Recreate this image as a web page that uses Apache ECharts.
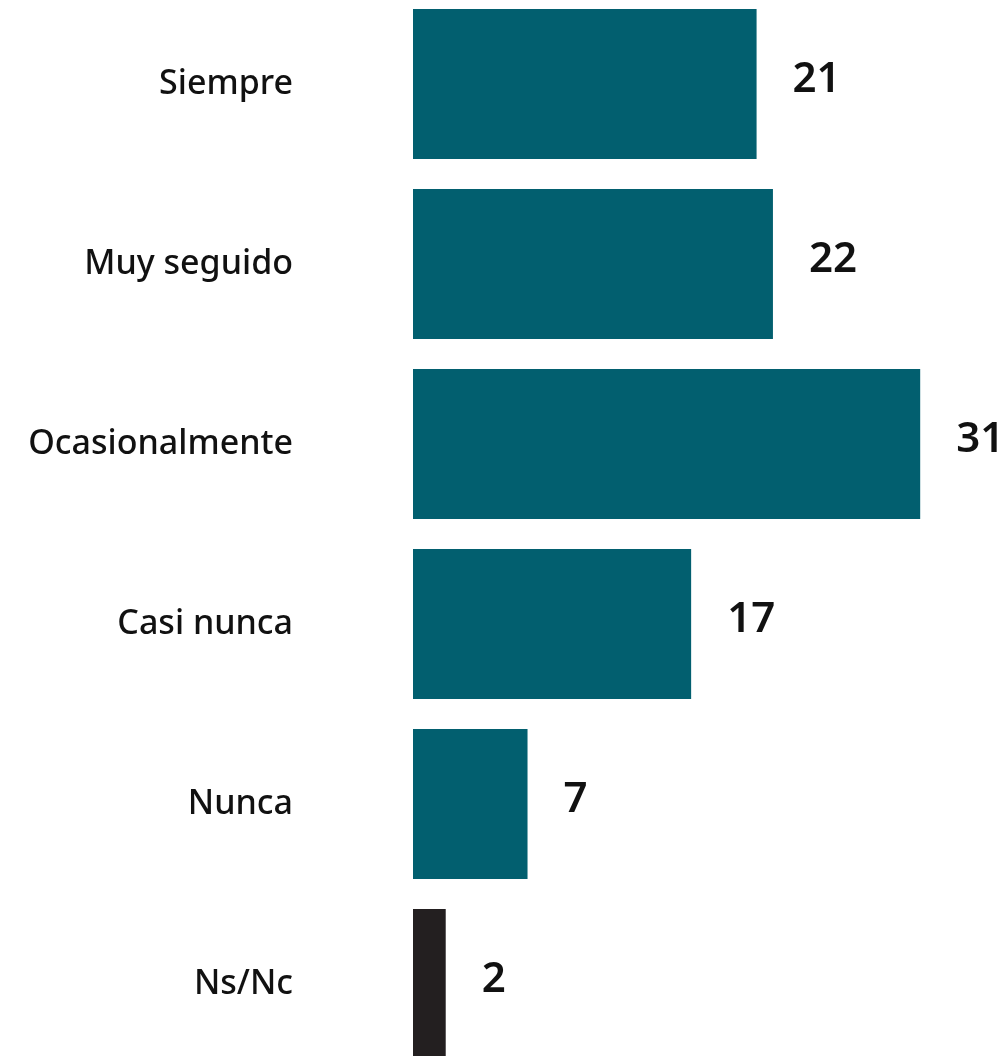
<!DOCTYPE html>
<html>
<head>
<meta charset="utf-8">
<script src="https://cdn.jsdelivr.net/npm/echarts@6/dist/echarts.min.js"></script>
<style>html,body{margin:0;padding:0;background:#fff;overflow:hidden;}#c{width:1005px;height:1086px;margin-top:-6px;}</style>
</head>
<body>
<div id="c"></div>
<script>
const categories = ["Siempre", "Muy seguido", "Ocasionalmente", "Casi nunca", "Nunca", "Ns/Nc"];
const values = [21, 22, 31, 17, 7, 2];
const barColors = ["#025F6F", "#025F6F", "#025F6F", "#025F6F", "#025F6F", "#231F20"];

const chart = echarts.init(document.getElementById('c'), null, {renderer: 'canvas'});
chart.setOption({
  animation: false,
  backgroundColor: '#ffffff',
  grid: {left: 413, top: 0, height: 1080, width: 589, containLabel: false},
  xAxis: {type: 'value', min: 0, max: 36, show: false},
  yAxis: {
    type: 'category', data: categories, inverse: true,
    axisLine: {show: false}, axisTick: {show: false},
    axisLabel: {margin: 120, fontFamily: 'Noto Sans', fontSize: 34, fontWeight: 500, color: '#111', align: 'right'}
  },
  series: [{
    type: 'bar',
    data: values.map((v, i) => ({value: v, itemStyle: {color: barColors[i]}})),
    barWidth: 150,
    label: {show: true, position: 'right', distance: 36, fontFamily: 'Noto Sans', fontSize: 42, fontWeight: 600, color: '#111', offset: [0, -4]}
  }]
});
</script>
</body>
</html>
